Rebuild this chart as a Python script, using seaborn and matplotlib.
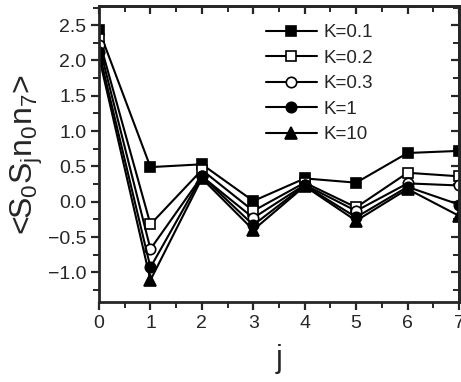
import numpy as np
import pandas as pd
import matplotlib
matplotlib.use("Agg")
import matplotlib.pyplot as plt
from matplotlib.ticker import MultipleLocator
import seaborn as sns

j = [0, 1, 2, 3, 4, 5, 6, 7]
k01 = [2.43, 0.49, 0.53, 0.01, 0.33, 0.27, 0.69, 0.72]
k02 = [2.30, -0.32, 0.45, -0.13, 0.27, -0.08, 0.41, 0.36]
k03 = [2.22, -0.67, 0.36, -0.23, 0.24, -0.13, 0.26, 0.23]
k1 = [2.12, -0.93, 0.36, -0.33, 0.23, -0.22, 0.21, -0.04]
k10 = [2.05, -1.11, 0.33, -0.40, 0.22, -0.27, 0.18, -0.20]
labels = ["K=0.1", "K=0.2", "K=0.3", "K=1", "K=10"]

series = [k01, k02, k03, k1, k10]
styles = [("s", "black"), ("s", "white"), ("o", "white"), ("o", "black"), ("^", "black")]

sns.set_style("ticks")
plt.rcParams['font.family'] = ['Liberation Sans', 'DejaVu Sans']
plt.rcParams['mathtext.fontset'] = 'custom'
plt.rcParams['mathtext.rm'] = 'Liberation Sans'

fig = plt.figure(figsize=(4.61, 3.82), dpi=100)
ax = fig.add_axes([0.2148, 0.2094, 0.7809, 0.7746])

for vals, lab, (m, fc) in zip(series, labels, styles):
    df = pd.DataFrame({"j": j, "v": vals})
    sns.lineplot(data=df, x="j", y="v", ax=ax, color="black", lw=1.5,
                 marker=m, markersize=7.5 if m != "^" else 8.5,
                 markerfacecolor=fc, markeredgecolor="black", markeredgewidth=1.2,
                 label=lab)

ax.set_xlim(0, 7)
ax.set_ylim(-1.42, 2.77)
ax.xaxis.set_major_locator(MultipleLocator(1))
ax.xaxis.set_minor_locator(MultipleLocator(0.5))
ax.yaxis.set_major_locator(MultipleLocator(0.5))
ax.yaxis.set_minor_locator(MultipleLocator(0.25))
ax.tick_params(which='major', direction='out', length=6, width=1.6, labelsize=14, pad=3)
ax.tick_params(which='minor', direction='out', length=4, width=1.4)
for s in ax.spines.values():
    s.set_linewidth(2)
    s.set_visible(True)

# mirrored inward ticks on top/right
top = ax.secondary_xaxis('top')
top.xaxis.set_major_locator(MultipleLocator(1))
top.xaxis.set_minor_locator(MultipleLocator(0.5))
top.tick_params(which='major', direction='in', length=6, width=1.6, labeltop=False)
top.tick_params(which='minor', direction='in', length=4, width=1.4)
top.spines['top'].set_linewidth(2)
right = ax.secondary_yaxis('right')
right.yaxis.set_major_locator(MultipleLocator(0.5))
right.yaxis.set_minor_locator(MultipleLocator(0.25))
right.tick_params(which='major', direction='in', length=6, width=1.6, labelright=False)
right.tick_params(which='minor', direction='in', length=4, width=1.4)
right.spines['right'].set_linewidth(2)

ax.set_xlabel("j", fontsize=22, labelpad=9)
ax.set_ylabel(r"<S$_\mathrm{0}$S$_\mathrm{j}$n$_\mathrm{0}$n$_\mathrm{7}$>", fontsize=23, labelpad=2)

leg = ax.legend(loc="upper left", bbox_to_anchor=(0.443, 0.965), frameon=False, fontsize=13.5,
                handlelength=2.7, handletextpad=0.37, labelspacing=0.45, borderaxespad=0.0)

fig.savefig("out.png", dpi=100)
